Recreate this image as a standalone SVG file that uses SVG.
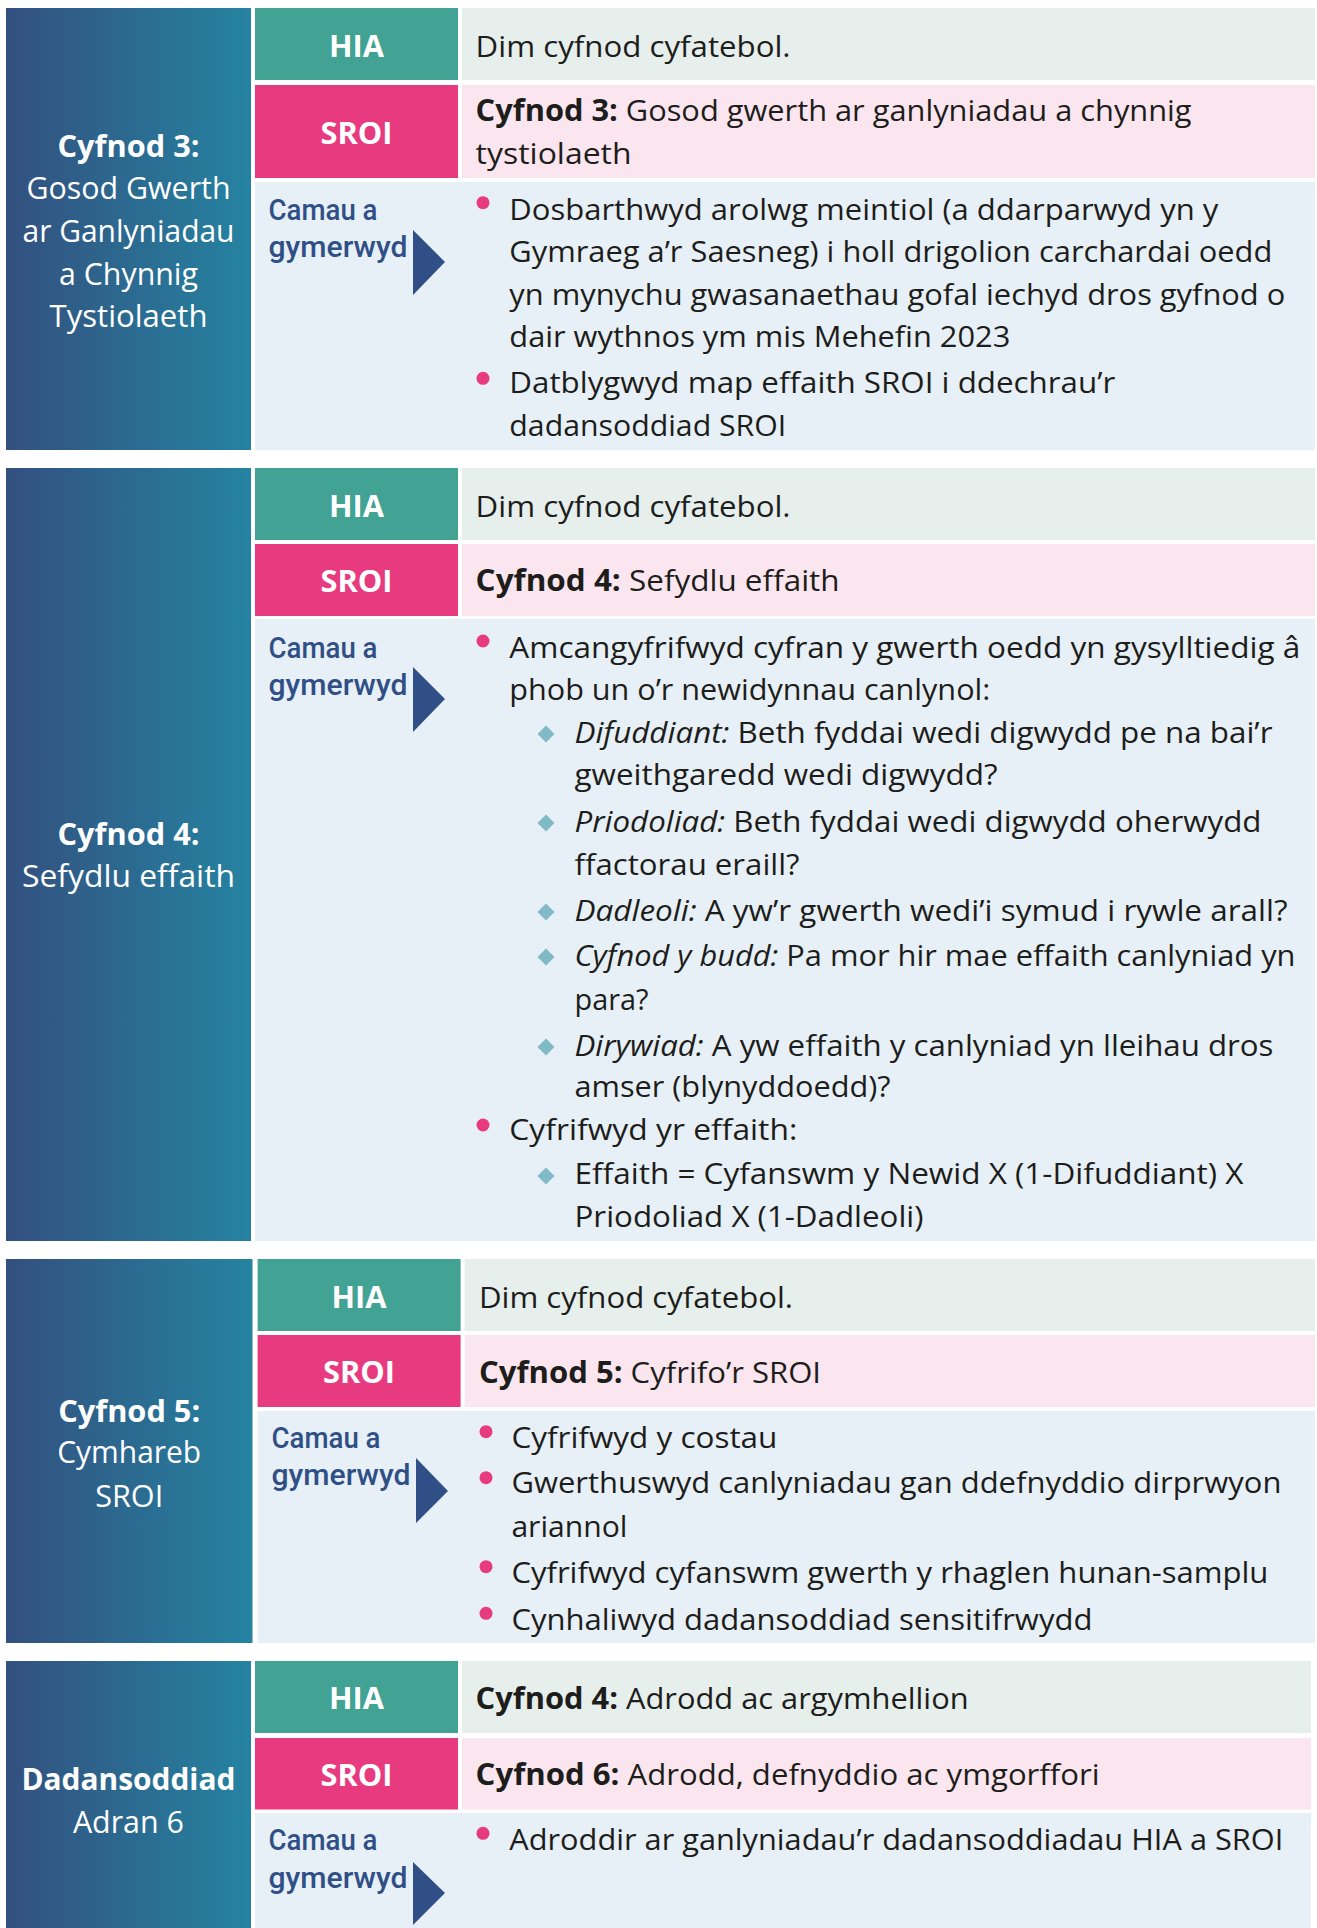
<svg xmlns="http://www.w3.org/2000/svg" width="1317" height="1928" viewBox="0 0 1317 1928">
<defs>
<linearGradient id="side" x1="0" y1="0" x2="1" y2="0">
<stop offset="0" stop-color="#33507f"/>
<stop offset="1" stop-color="#2583a1"/>
</linearGradient>
<style>
text{font-family:"Open Sans","Noto Sans",sans-serif;font-size:30px;fill:#1d1d1b}
.b{font-weight:700}
.i{font-style:italic}
.side{fill:url(#side)}
.sideT{fill:#fff;text-anchor:middle;font-size:31px}
.tag{fill:#fff;text-anchor:middle;font-weight:700;font-size:31px}
.hia{fill:#42a294}
.sroi{fill:#e83b7f}
.hiaC{fill:#e6efec}
.sroiC{fill:#fbe6ef}
.cam{fill:#e7f0f6}
.camT{fill:#2f4f86;font-family:Roboto,"Liberation Sans",sans-serif;font-weight:500}
.arrow{fill:#2f4f86}
.dot{fill:#e83b7f}
.dia{fill:#80bac7}
</style>
</defs>
<rect width="1317" height="1928" fill="#ffffff"/>

<!-- Section 1 -->
<g id="stage3">
<g id="stage3-side">
<rect class="side" x="6" y="8" width="245" height="442"/>
<text class="sideT b" x="128.5" y="156.7" textLength="142" lengthAdjust="spacingAndGlyphs">Cyfnod 3:</text>
<text class="sideT" x="128.5" y="199" textLength="204" lengthAdjust="spacingAndGlyphs">Gosod Gwerth</text>
<text class="sideT" x="128.5" y="241.7" textLength="212" lengthAdjust="spacingAndGlyphs">ar Ganlyniadau</text>
<text class="sideT" x="128.5" y="285" textLength="139" lengthAdjust="spacingAndGlyphs">a Chynnig</text>
<text class="sideT" x="128.5" y="326.7" textLength="158" lengthAdjust="spacingAndGlyphs">Tystiolaeth</text>
</g>
<g id="stage3-hia">
<rect class="hia" x="255" y="8" width="203" height="72"/>
<text class="tag" x="356.5" y="57.3" textLength="55" lengthAdjust="spacingAndGlyphs">HIA</text>
<rect class="hiaC" x="462" y="8" width="853" height="72"/>
<text x="475.6" y="56.7" textLength="315" lengthAdjust="spacingAndGlyphs">Dim cyfnod cyfatebol.</text>
</g>
<g id="stage3-sroi">
<rect class="sroi" x="255" y="85" width="203" height="93"/>
<text class="tag" x="356.5" y="144" textLength="72" lengthAdjust="spacingAndGlyphs">SROI</text>
<rect class="sroiC" x="462" y="85" width="853" height="93"/>
<text x="475.6" y="120.7" textLength="716" lengthAdjust="spacingAndGlyphs"><tspan class="b">Cyfnod 3:</tspan> Gosod gwerth ar ganlyniadau a chynnig</text>
<text x="475.6" y="164.3" textLength="156" lengthAdjust="spacingAndGlyphs">tystiolaeth</text>
</g>
<g id="stage3-steps">
<rect class="cam" x="255" y="182" width="1060" height="268"/>
<text class="camT" x="268.5" y="220" textLength="109" lengthAdjust="spacingAndGlyphs">Camau a</text>
<text class="camT" x="268.5" y="256.7" textLength="139" lengthAdjust="spacingAndGlyphs">gymerwyd</text>
<polygon class="arrow" points="413,230 445,262 413,295"/>
<circle class="dot" cx="483" cy="202.7" r="6.5"/>
<text x="509.3" y="220" textLength="709" lengthAdjust="spacingAndGlyphs">Dosbarthwyd arolwg meintiol (a ddarparwyd yn y</text>
<text x="509.3" y="262" textLength="763" lengthAdjust="spacingAndGlyphs">Gymraeg a’r Saesneg) i holl drigolion carchardai oedd</text>
<text x="509.3" y="304.5" textLength="776" lengthAdjust="spacingAndGlyphs">yn mynychu gwasanaethau gofal iechyd dros gyfnod o</text>
<text x="509.3" y="346.7" textLength="501" lengthAdjust="spacingAndGlyphs">dair wythnos ym mis Mehefin 2023</text>
<circle class="dot" cx="483" cy="378.3" r="6.5"/>
<text x="509.3" y="393.3" textLength="606" lengthAdjust="spacingAndGlyphs">Datblygwyd map effaith SROI i ddechrau’r</text>
<text x="509.3" y="435.6" textLength="277" lengthAdjust="spacingAndGlyphs">dadansoddiad SROI</text>
</g>
</g>

<!-- Section 2 -->
<g id="stage4">
<g id="stage4-side">
<rect class="side" x="6" y="468" width="245" height="773"/>
<text class="sideT b" x="128.5" y="845" textLength="142" lengthAdjust="spacingAndGlyphs">Cyfnod 4:</text>
<text class="sideT" x="128.5" y="886.7" textLength="213" lengthAdjust="spacingAndGlyphs">Sefydlu effaith</text>
</g>
<g id="stage4-hia">
<rect class="hia" x="255" y="468" width="203" height="72"/>
<text class="tag" x="356.5" y="517.3" textLength="55" lengthAdjust="spacingAndGlyphs">HIA</text>
<rect class="hiaC" x="462" y="468" width="853" height="72"/>
<text x="475.6" y="516.7" textLength="315" lengthAdjust="spacingAndGlyphs">Dim cyfnod cyfatebol.</text>
</g>
<g id="stage4-sroi">
<rect class="sroi" x="255" y="544" width="203" height="72"/>
<text class="tag" x="356.5" y="591.7" textLength="72" lengthAdjust="spacingAndGlyphs">SROI</text>
<rect class="sroiC" x="462" y="544" width="853" height="72"/>
<text x="475.6" y="591" textLength="364" lengthAdjust="spacingAndGlyphs"><tspan class="b">Cyfnod 4:</tspan> Sefydlu effaith</text>
</g>
<g id="stage4-steps">
<rect class="cam" x="255" y="619" width="1060" height="622"/>
<text class="camT" x="268.5" y="658.3" textLength="109" lengthAdjust="spacingAndGlyphs">Camau a</text>
<text class="camT" x="268.5" y="695" textLength="139" lengthAdjust="spacingAndGlyphs">gymerwyd</text>
<polygon class="arrow" points="413,667 445,699 413,732"/>
<circle class="dot" cx="483" cy="641" r="6.5"/>
<text x="509.3" y="658.3" textLength="791" lengthAdjust="spacingAndGlyphs">Amcangyfrifwyd cyfran y gwerth oedd yn gysylltiedig â</text>
<text x="509.3" y="700" textLength="481" lengthAdjust="spacingAndGlyphs">phob un o’r newidynnau canlynol:</text>
<polygon class="dia" points="546,725.5 554.5,734 546,742.5 537.5,734"/>
<text x="574.5" y="743" textLength="698" lengthAdjust="spacingAndGlyphs"><tspan class="i">Difuddiant:</tspan> Beth fyddai wedi digwydd pe na bai’r</text>
<text x="574.5" y="785" textLength="423" lengthAdjust="spacingAndGlyphs">gweithgaredd wedi digwydd?</text>
<polygon class="dia" points="546,814.5 554.5,823 546,831.5 537.5,823"/>
<text x="574.5" y="832" textLength="687" lengthAdjust="spacingAndGlyphs"><tspan class="i">Priodoliad:</tspan> Beth fyddai wedi digwydd oherwydd</text>
<text x="574.5" y="875" textLength="225" lengthAdjust="spacingAndGlyphs">ffactorau eraill?</text>
<polygon class="dia" points="546,903.5 554.5,912 546,920.5 537.5,912"/>
<text x="574.5" y="921" textLength="713" lengthAdjust="spacingAndGlyphs"><tspan class="i">Dadleoli:</tspan> A yw’r gwerth wedi’i symud i rywle arall?</text>
<polygon class="dia" points="546,948.5 554.5,957 546,965.5 537.5,957"/>
<text x="574.5" y="966" textLength="721" lengthAdjust="spacingAndGlyphs"><tspan class="i">Cyfnod y budd:</tspan> Pa mor hir mae effaith canlyniad yn</text>
<text x="574.5" y="1010" textLength="74" lengthAdjust="spacingAndGlyphs">para?</text>
<polygon class="dia" points="546,1038.5 554.5,1047 546,1055.5 537.5,1047"/>
<text x="574.5" y="1056" textLength="699" lengthAdjust="spacingAndGlyphs"><tspan class="i">Dirywiad:</tspan> A yw effaith y canlyniad yn lleihau dros</text>
<text x="574.5" y="1097" textLength="316" lengthAdjust="spacingAndGlyphs">amser (blynyddoedd)?</text>
<circle class="dot" cx="483" cy="1125" r="6.5"/>
<text x="509.3" y="1140" textLength="288" lengthAdjust="spacingAndGlyphs">Cyfrifwyd yr effaith:</text>
<polygon class="dia" points="546,1167.5 554.5,1176 546,1184.5 537.5,1176"/>
<text x="574.5" y="1183.5" textLength="669" lengthAdjust="spacingAndGlyphs">Effaith = Cyfanswm y Newid X (1-Difuddiant) X</text>
<text x="574.5" y="1226.7" textLength="349" lengthAdjust="spacingAndGlyphs">Priodoliad X (1-Dadleoli)</text>
</g>
</g>

<!-- Section 3 -->
<g id="stage5">
<g id="stage5-side">
<rect class="side" x="6" y="1259" width="246.5" height="384"/>
<text class="sideT b" x="129.2" y="1421.7" textLength="142" lengthAdjust="spacingAndGlyphs">Cyfnod 5:</text>
<text class="sideT" x="129.2" y="1462.7" textLength="144" lengthAdjust="spacingAndGlyphs">Cymhareb</text>
<text class="sideT" x="129.2" y="1506.7" textLength="68" lengthAdjust="spacingAndGlyphs">SROI</text>
</g>
<g id="stage5-hia">
<rect class="hia" x="257.6" y="1259" width="203" height="72"/>
<text class="tag" x="359" y="1308.3" textLength="55" lengthAdjust="spacingAndGlyphs">HIA</text>
<rect class="hiaC" x="464.6" y="1259" width="850.4" height="72"/>
<text x="479" y="1308.3" textLength="314" lengthAdjust="spacingAndGlyphs">Dim cyfnod cyfatebol.</text>
</g>
<g id="stage5-sroi">
<rect class="sroi" x="257.6" y="1335" width="203" height="72"/>
<text class="tag" x="359" y="1383.3" textLength="72" lengthAdjust="spacingAndGlyphs">SROI</text>
<rect class="sroiC" x="464.6" y="1335" width="850.4" height="72"/>
<text x="479" y="1383.3" textLength="342" lengthAdjust="spacingAndGlyphs"><tspan class="b">Cyfnod 5:</tspan> Cyfrifo’r SROI</text>
</g>
<g id="stage5-steps">
<rect class="cam" x="257.6" y="1411" width="1057.4" height="232"/>
<text class="camT" x="271.5" y="1448.3" textLength="109" lengthAdjust="spacingAndGlyphs">Camau a</text>
<text class="camT" x="271.5" y="1485" textLength="139" lengthAdjust="spacingAndGlyphs">gymerwyd</text>
<polygon class="arrow" points="416,1458 448,1491 416,1523"/>
<circle class="dot" cx="486" cy="1431.7" r="6.5"/>
<text x="511.4" y="1448.3" textLength="266" lengthAdjust="spacingAndGlyphs">Cyfrifwyd y costau</text>
<circle class="dot" cx="486" cy="1477.7" r="6.5"/>
<text x="511.4" y="1493.3" textLength="770" lengthAdjust="spacingAndGlyphs">Gwerthuswyd canlyniadau gan ddefnyddio dirprwyon</text>
<text x="511.4" y="1536.7" textLength="116" lengthAdjust="spacingAndGlyphs">ariannol</text>
<circle class="dot" cx="486" cy="1566.7" r="6.5"/>
<text x="511.4" y="1583.3" textLength="757" lengthAdjust="spacingAndGlyphs">Cyfrifwyd cyfanswm gwerth y rhaglen hunan-samplu</text>
<circle class="dot" cx="486" cy="1613.3" r="6.5"/>
<text x="511.4" y="1630" textLength="581" lengthAdjust="spacingAndGlyphs">Cynhaliwyd dadansoddiad sensitifrwydd</text>
</g>
</g>

<!-- Section 4 -->
<g id="analysis">
<g id="analysis-side">
<rect class="side" x="6" y="1661" width="245" height="267"/>
<text class="sideT b" x="128.4" y="1790" textLength="214" lengthAdjust="spacingAndGlyphs">Dadansoddiad</text>
<text class="sideT" x="128.4" y="1833.3" textLength="111" lengthAdjust="spacingAndGlyphs">Adran 6</text>
</g>
<g id="analysis-hia">
<rect class="hia" x="255" y="1661" width="203" height="72"/>
<text class="tag" x="356.5" y="1709.3" textLength="55" lengthAdjust="spacingAndGlyphs">HIA</text>
<rect class="hiaC" x="462" y="1661" width="849" height="72"/>
<text x="475.6" y="1709.3" textLength="493" lengthAdjust="spacingAndGlyphs"><tspan class="b">Cyfnod 4:</tspan> Adrodd ac argymhellion</text>
</g>
<g id="analysis-sroi">
<rect class="sroi" x="255" y="1738" width="203" height="71.5"/>
<text class="tag" x="356.5" y="1785.7" textLength="72" lengthAdjust="spacingAndGlyphs">SROI</text>
<rect class="sroiC" x="462" y="1738" width="849" height="71.5"/>
<text x="475.6" y="1785" textLength="624" lengthAdjust="spacingAndGlyphs"><tspan class="b">Cyfnod 6:</tspan> Adrodd, defnyddio ac ymgorffori</text>
</g>
<g id="analysis-steps">
<rect class="cam" x="255" y="1813" width="1056" height="115"/>
<text class="camT" x="268.5" y="1850" textLength="109" lengthAdjust="spacingAndGlyphs">Camau a</text>
<text class="camT" x="268.5" y="1888.3" textLength="139" lengthAdjust="spacingAndGlyphs">gymerwyd</text>
<polygon class="arrow" points="413,1862 445,1893 413,1925"/>
<circle class="dot" cx="483" cy="1833.3" r="6.5"/>
<text x="509.3" y="1850" textLength="774" lengthAdjust="spacingAndGlyphs">Adroddir ar ganlyniadau’r dadansoddiadau HIA a SROI</text>
</g>
</g>

<g id="connectors"></g>
</svg>
